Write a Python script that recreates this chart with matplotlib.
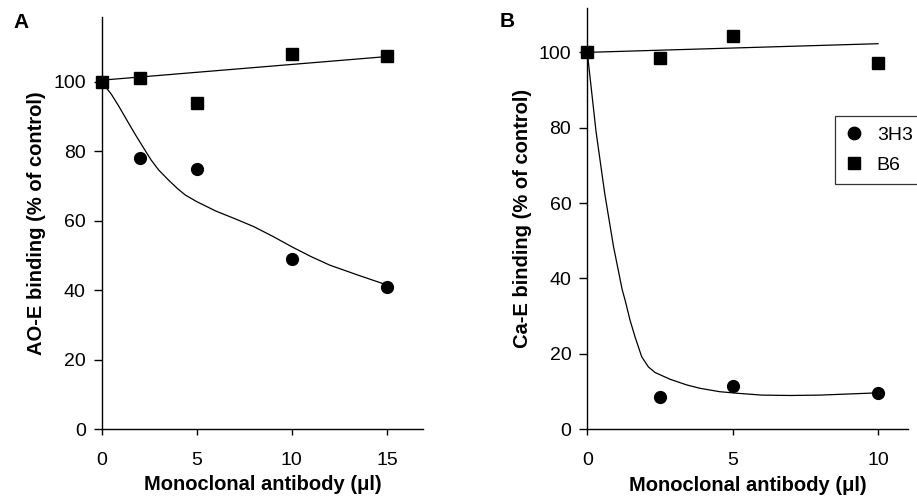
import matplotlib
matplotlib.use("Agg")
import matplotlib.pyplot as plt

plt.rcParams['font.family'] = ['Liberation Sans', 'DejaVu Sans']

# ---- Panel A data ----
a_x = [0, 2, 5, 10, 15]
a_3h3 = [100, 78, 75, 49, 41]
a_b6 = [100, 101, 94, 108, 107.5]
a_fit_3h3_x = [0, 0.5, 0.9, 1.3, 1.75, 2.2, 2.6, 3.0, 3.5, 4.0, 4.4, 5, 6, 7, 8, 9, 10, 11, 12, 13.5, 15]
a_fit_3h3_y = [100, 96.5, 93, 89.2, 85, 81, 77.5, 74.6, 71.8, 69.2, 67.4, 65.5, 62.8, 60.6, 58.3, 55.5, 52.5, 49.7, 47.2, 44.3, 41.5]
a_fit_b6_x = [0, 15]
a_fit_b6_y = [100.5, 107.3]
a_xticks = [0, 5, 10, 15]
a_yticks = [0, 20, 40, 60, 80, 100]

# ---- Panel B data ----
b_x = [0, 2.5, 5, 10]
b_3h3 = [100, 8.6, 11.5, 9.5]
b_b6 = [100, 98.4, 104.4, 97.1]
b_fit_3h3_x = [0, 0.3, 0.6, 0.9, 1.2, 1.3, 1.47, 1.64, 1.87, 2.1, 2.33, 2.85, 3.42, 3.88, 4.56, 5.14, 6, 7, 8, 9, 10]
b_fit_3h3_y = [100, 79, 62.5, 48.5, 37, 34.2, 28.9, 24.5, 19.2, 16.5, 15.0, 13.2, 11.7, 10.8, 9.9, 9.5, 9.0, 8.9, 9.0, 9.3, 9.6]
b_fit_b6_x = [0, 10]
b_fit_b6_y = [100, 102.3]
b_xticks = [0, 5, 10]
b_yticks = [0, 20, 40, 60, 80, 100]

series_labels = ["3H3", "B6"]
xlabel = "Monoclonal antibody (\u03bcl)"
a_ylabel = "AO-E binding (% of control)"
b_ylabel = "Ca-E binding (% of control)"

W, H = 917, 501
fig = plt.figure(figsize=(W / 100, H / 100), dpi=100)

def px_axes(l, r, b, t):
    return fig.add_axes([l / W, 1 - b / H, (r - l) / W, (b - t) / H])

axA = px_axes(101.7, 423, 429, 17)
axB = px_axes(587.3, 907.7, 429, 8.3)

ms = 8.5
tick_fs = 14
label_fs = 14.5

def style(ax, xlim, ylim, xticks, yticks, ylabel):
    ax.set_xlim(*xlim)
    ax.set_ylim(*ylim)
    ax.set_xticks(xticks)
    ax.set_yticks(yticks)
    for s in ("top", "right"):
        ax.spines[s].set_visible(False)
    for s in ("left", "bottom"):
        ax.spines[s].set_linewidth(1.0)
        ax.spines[s].set_color("black")
    ax.tick_params(axis="x", direction="out", length=4.5, width=1.0,
                   labelsize=tick_fs, pad=12)
    ax.tick_params(axis="y", direction="out", length=5.5, width=1.0,
                   labelsize=tick_fs, pad=6)
    ax.set_xlabel(xlabel, fontsize=label_fs, fontweight="bold")
    ax.set_ylabel(ylabel, fontsize=label_fs, fontweight="bold")
    ax.xaxis.set_label_coords(0.5, -0.112)
    ax.yaxis.set_label_coords(-0.172, 0.5)

# Panel A
axA.plot(a_fit_3h3_x, a_fit_3h3_y, color="black", lw=0.9, zorder=2)
axA.plot(a_fit_b6_x, a_fit_b6_y, color="black", lw=0.9, zorder=2)
axA.plot(a_x, a_3h3, "o", color="black", ms=ms, clip_on=False, zorder=3)
axA.plot(a_x, a_b6, "s", color="black", ms=ms, clip_on=False, zorder=3)
style(axA, (0, 16.9), (0, 118.7), a_xticks, a_yticks, a_ylabel)

# Panel B
axB.plot(b_fit_3h3_x, b_fit_3h3_y, color="black", lw=0.9, zorder=2)
axB.plot(b_fit_b6_x, b_fit_b6_y, color="black", lw=0.9, zorder=2)
axB.plot(b_x, b_3h3, "o", color="black", ms=ms, clip_on=False, zorder=3,
         label=series_labels[0])
axB.plot(b_x, b_b6, "s", color="black", ms=ms, clip_on=False, zorder=3,
         label=series_labels[1])
style(axB, (0, 11.02), (0, 111.7), b_xticks, b_yticks, b_ylabel)

leg = axB.legend(loc="upper left", bbox_to_anchor=(0.773, 0.744),
                 frameon=True, fancybox=False, fontsize=14,
                 handlelength=0.9, handletextpad=0.7, borderpad=0.55,
                 labelspacing=0.6, borderaxespad=0, markerscale=1.05)
leg.get_frame().set_edgecolor("black")
leg.get_frame().set_linewidth(0.9)

fig.text(13 / W, 1 - 28 / H, "A", fontsize=15, fontweight="bold",
         ha="left", va="baseline")
fig.text(500 / W, 1 - 27 / H, "B", fontsize=15, fontweight="bold",
         ha="left", va="baseline")

fig.savefig("out.png", dpi=100)
